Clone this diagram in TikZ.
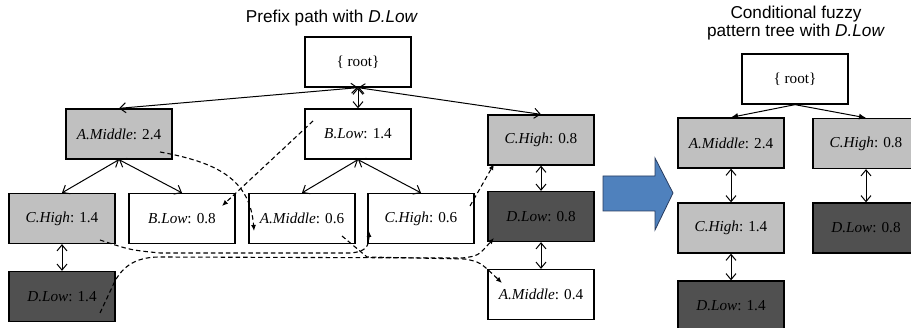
\documentclass[tikz,border=0pt]{standalone}
\usepackage{fontspec}
\setmainfont{Liberation Serif}
\newfontfamily\titlefont{Liberation Sans}
\usetikzlibrary{arrows.meta}
\definecolor{lightg}{RGB}{192,192,192}
\definecolor{darkg}{RGB}{80,80,80}
\definecolor{bluefill}{RGB}{79,129,189}
\definecolor{blueline}{RGB}{40,60,95}
\begin{document}
\begin{tikzpicture}[x=1pt,y=-1pt,
  box/.style={draw, line width=1.3pt, fill=white, minimum width=106pt, minimum height=50pt, inner sep=0pt, font=\fontsize{15.2}{18}\selectfont},
  lg/.style={box, fill=lightg},
  dg/.style={box, fill=darkg},
  edge/.style={line width=1pt, {Straight Barb[length=6pt,width=10pt]}-{Straight Barb[length=6pt,width=10pt]}},
  fedge/.style={line width=1pt, -{Latex[length=7pt,width=6pt]}},
  link/.style={line width=1.1pt, dash pattern=on 4.5pt off 3pt, -{Latex[length=6pt,width=5pt]}},
  ttl/.style={font=\titlefont\fontsize{17.2}{17.5}\selectfont, align=center, inner sep=0pt}]
\useasboundingbox (0,0) rectangle (911,328);

% titles
\node[ttl] (t1) at (332,18) {Prefix path with \textit{D.Low}};
\node[ttl] (t2) at (796,23) {Conditional fuzzy\\pattern tree with \textit{D.Low}};

% left tree
\node[box] (root) at (358,62) {\{ root\}};
\node[lg] (am24) at (119,134) {\textit{A.Middle}: 2.4};
\node[box] (bl14) at (358,134) {\textit{B.Low}: 1.4};
\node[lg] (ch08) at (541,140) {\textit{C.High}: 0.8};
\node[lg] (ch14) at (62,218.5) {\textit{C.High}: 1.4};
\node[box] (bl08) at (182,218.5) {\textit{B.Low}: 0.8};
\node[box] (am06) at (302,218.5) {\textit{A.Middle}: 0.6};
\node[box] (ch06) at (421,218.5) {\textit{C.High}: 0.6};
\node[dg] (dl08) at (541,216.5) {\textit{D.Low}: 0.8};
\node[dg] (dl14) at (62,296.5) {\textit{D.Low}: 1.4};
\node[box] (am04) at (541,294.5) {\textit{A.Middle}: 0.4};

\draw[edge] (root.south) -- (am24.north);
\draw[edge] (root.south) -- (bl14.north);
\draw[edge] (root.south) -- (ch08.north);
\draw[edge] (am24.south) -- (ch14.north);
\draw[edge] (am24.south) -- (bl08.north);
\draw[edge] (bl14.south) -- (am06.north);
\draw[edge] (bl14.south) -- (ch06.north);
\draw[edge] (ch14.south) -- (dl14.north);
\draw[edge] (ch08.south) -- (dl08.north);
\draw[edge] (dl08.south) -- (am04.north);

% node links (dashed)
\coordinate (la1) at (160,152);
\coordinate (la2) at (254,231);
\coordinate (lb1) at (313,121);
\coordinate (lb2) at (222,206);
\coordinate (lc1) at (100,240);
\coordinate (lc2) at (369,231);
\coordinate (ld1) at (100,313);
\coordinate (ld2) at (494,238);
\coordinate (le1) at (342,236);
\coordinate (le2) at (502,283);
\coordinate (lf1) at (470,206);
\coordinate (lf2) at (494,164);

\draw[link] (la1) .. controls (215,162) and (250,178) .. (la2);
\draw[link] (lb1) -- (lb2);
\draw[link] (lc1) .. controls (130,250) .. (160,253) -- (350,253) .. controls (366,252) and (369,246) .. (lc2);
\draw[link] (ld1) -- (115,281) .. controls (125,263) and (140,257) .. (160,257) -- (462,258) .. controls (478,256) .. (ld2);
\draw[link] (le1) -- (367,257) -- (465,259) .. controls (480,262) .. (le2);
\draw[link] (lf1) -- (lf2);

% big arrow
\draw[fill=bluefill, draw=blueline, line width=0.8pt] (603,176) -- (655,176) -- (655,158) -- (673,193) -- (655,230) -- (655,211) -- (603,211) -- cycle;

% right tree
\node[box] (rroot) at (795,79) {\{ root\}};
\node[lg] (ram24) at (731,143) {\textit{A.Middle}: 2.4};
\node[lg] (rch08) at (866,143.5) {\textit{C.High}: 0.8};
\node[lg] (rch14) at (731,228) {\textit{C.High}: 1.4};
\node[dg] (rdl08) at (866,228) {\textit{D.Low}: 0.8};
\node[dg] (rdl14) at (731,306) {\textit{D.Low}: 1.4};

\draw[fedge] (rroot.south) -- (ram24.north);
\draw[fedge] (rroot.south) -- (rch08.north);
\draw[edge] (ram24.south) -- (rch14.north);
\draw[edge] (rch14.south) -- (rdl14.north);
\draw[edge] (rch08.south) -- (rdl08.north);
\end{tikzpicture}
\end{document}
